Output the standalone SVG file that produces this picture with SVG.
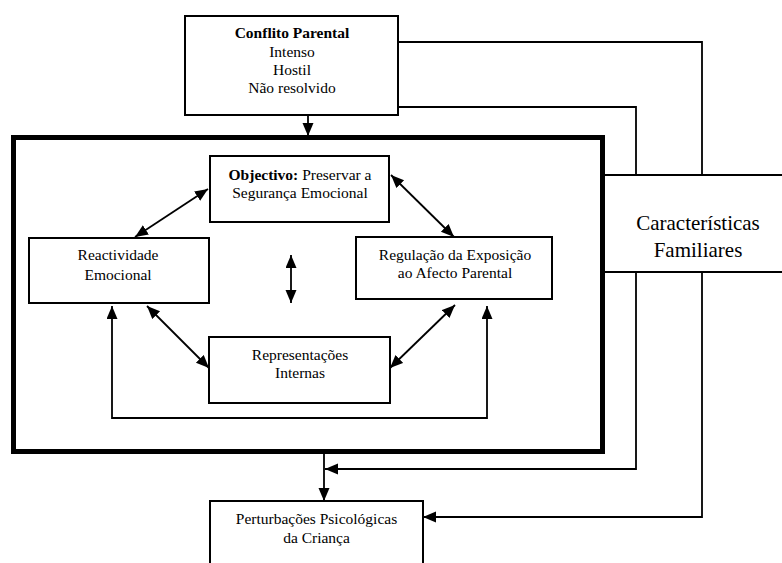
<svg xmlns="http://www.w3.org/2000/svg" width="782" height="563" viewBox="0 0 782 563">
<style>
  .box { fill: #fff; stroke: #000; stroke-width: 2; }
  .big { fill: none; stroke: #000; stroke-width: 5; }
  .t { font-family: "Liberation Serif", Tinos, "Times New Roman", "DejaVu Serif", serif; font-size: 15.5px; fill: #000; text-anchor: middle; }
  .tb { font-weight: bold; }
  .tl { font-family: "Liberation Serif", Tinos, "Times New Roman", "DejaVu Serif", serif; font-size: 21px; fill: #000; text-anchor: middle; }
  .c { fill: none; stroke: #000; stroke-width: 1.8; }
</style>
<defs>
  <marker id="ah" markerUnits="userSpaceOnUse" markerWidth="14" markerHeight="12" refX="13" refY="5.5" orient="auto-start-reverse">
    <path d="M0,0 L13,5.5 L0,11 z" fill="#000"/>
  </marker>
</defs>
<rect width="782" height="563" fill="#fff"/>

<g id="sistema">
  <rect class="big" x="13.5" y="137.5" width="589" height="314"/>
</g>

<g id="conflito">
  <rect class="box" x="185" y="16" width="213" height="99"/>
  <text class="t tb" x="292" y="38">Conflito Parental</text>
  <text class="t" x="292" y="57">Intenso</text>
  <text class="t" x="292" y="75">Hostil</text>
  <text class="t" x="292" y="93">Não resolvido</text>
</g>

<g id="caracteristicas">
  <rect class="box" x="604" y="175" width="200" height="97"/>
  <text class="tl" x="698" y="230">Características</text>
  <text class="tl" x="698" y="257">Familiares</text>
</g>

<g id="objectivo">
  <rect class="box" x="210" y="156" width="179" height="66"/>
  <text class="t" x="300" y="180"><tspan font-weight="bold">Objectivo:</tspan> Preservar a</text>
  <text class="t" x="300" y="198">Segurança Emocional</text>
</g>

<g id="reactividade">
  <rect class="box" x="29" y="238" width="180" height="65"/>
  <text class="t" x="118" y="260">Reactividade</text>
  <text class="t" x="118" y="280">Emocional</text>
</g>

<g id="regulacao">
  <rect class="box" x="356" y="237" width="196" height="62"/>
  <text class="t" x="455" y="260">Regulação da Exposição</text>
  <text class="t" x="455" y="278">ao Afecto Parental</text>
</g>

<g id="representacoes">
  <rect class="box" x="209" y="337" width="181" height="66"/>
  <text class="t" x="300" y="360">Representações</text>
  <text class="t" x="300" y="378">Internas</text>
</g>

<g id="perturbacoes">
  <rect class="box" x="210" y="501" width="213" height="80"/>
  <text class="t" x="316.5" y="524">Perturbações Psicológicas</text>
  <text class="t" x="316.5" y="543">da Criança</text>
</g>

<g id="connectors">
  <path class="c" d="M308,115 V136" marker-end="url(#ah)"/>
  <path class="c" d="M208,189 L135,237" marker-start="url(#ah)" marker-end="url(#ah)"/>
  <path class="c" d="M391,175 L454,237" marker-start="url(#ah)" marker-end="url(#ah)"/>
  <path class="c" d="M291,255 V303" marker-start="url(#ah)" marker-end="url(#ah)"/>
  <path class="c" d="M147,306 L209,368" marker-start="url(#ah)" marker-end="url(#ah)"/>
  <path class="c" d="M455,305 L390,368" marker-start="url(#ah)" marker-end="url(#ah)"/>
  <path class="c" d="M112,306 V418 H487 V306" marker-start="url(#ah)" marker-end="url(#ah)"/>
  <path class="c" d="M398,42 H702 V175"/>
  <path class="c" d="M398,107 H636 V175"/>
  <path class="c" d="M636,272 V469 H325" marker-end="url(#ah)"/>
  <path class="c" d="M702,272 V517 H423" marker-end="url(#ah)"/>
  <path class="c" d="M324,454 V501" marker-end="url(#ah)"/>
</g>
</svg>
